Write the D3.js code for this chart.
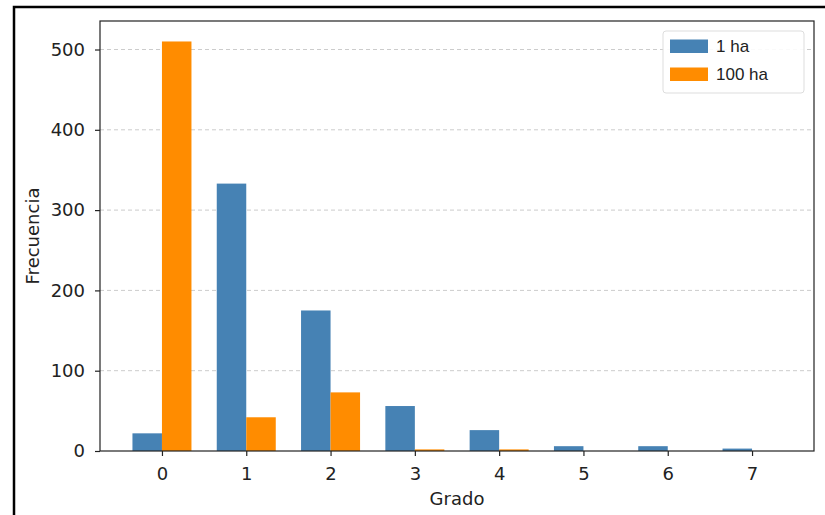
<!DOCTYPE html>
<html><head><meta charset="utf-8">
<script src="https://cdn.jsdelivr.net/npm/d3@7"></script>
<style>body{margin:0;background:#fff;} svg{display:block;}</style>
</head><body>
<script>
const categories = [0, 1, 2, 3, 4, 5, 6, 7];
const series1ha = [22, 333, 175, 56, 26, 6, 6, 3];
const series100ha = [510, 42, 73, 2, 2, 0, 0, 0];
const seriesNames = ["1 ha", "100 ha"];
const seriesColors = ["#4682b4", "#ff8c00"];
const yTicks = [0, 100, 200, 300, 400, 500];

const W = 825, H = 515;
const m = {left: 100, right: 11, top: 21, bottom: 64};
const svg = d3.select("body").append("svg").attr("width", W).attr("height", H);
svg.append("rect").attr("x",0).attr("y",0).attr("width",W).attr("height",H).attr("fill","#fff");
// outer frame
svg.append("rect").attr("x",14).attr("y",7).attr("width",W+20).attr("height",H+20)
  .attr("fill","none").attr("stroke","#000").attr("stroke-width",2.5);

const x = d3.scaleLinear().domain([-0.735, 7.735]).range([m.left, W - m.right]);
const y = d3.scaleLinear().domain([0, 535.5]).range([H - m.bottom, m.top]);
const bw = 0.35;
const font = "'DejaVu Sans', sans-serif";

// grid
svg.append("g").selectAll("line").data(yTicks.filter(d=>d>0)).join("line")
  .attr("x1", m.left).attr("x2", W - m.right)
  .attr("y1", d=>y(d)).attr("y2", d=>y(d))
  .attr("stroke", "#cccccc").attr("stroke-width", 1).attr("stroke-dasharray", "4,3");

// bars
const g = svg.append("g");
g.selectAll(".b1").data(categories).join("rect")
  .attr("x", (d)=>x(d - bw)).attr("width", (d)=>x(d) - x(d - bw))
  .attr("y", (d,i)=>y(series1ha[i])).attr("height", (d,i)=>y(0) - y(series1ha[i]))
  .attr("fill", seriesColors[0]);
g.selectAll(".b2").data(categories).join("rect")
  .attr("x", (d)=>x(d)).attr("width", (d)=>x(d + bw) - x(d))
  .attr("y", (d,i)=>y(series100ha[i])).attr("height", (d,i)=>y(0) - y(series100ha[i]))
  .attr("fill", seriesColors[1]);

// axes
const xAxis = svg.append("g").attr("transform", `translate(0,${H - m.bottom})`)
  .call(d3.axisBottom(x).tickValues(categories).tickFormat(d3.format("d")).tickSize(5).tickPadding(11.5));
const yAxis = svg.append("g").attr("transform", `translate(${m.left},0)`)
  .call(d3.axisLeft(y).tickValues(yTicks).tickSize(5).tickPadding(10));
[xAxis, yAxis].forEach(a => {
  a.select(".domain").remove();
  a.selectAll(".tick line").attr("stroke", "#222").attr("stroke-width", 1.2);
  a.selectAll(".tick text").attr("font-family", font).attr("font-size", 18).attr("fill", "#222");
});
// spines
svg.append("rect").attr("x", m.left).attr("y", m.top)
  .attr("width", W - m.right - m.left).attr("height", H - m.bottom - m.top)
  .attr("fill", "none").attr("stroke", "#222").attr("stroke-width", 1.2);

// labels
svg.append("text").attr("x", (m.left + W - m.right)/2).attr("y", 505)
  .attr("text-anchor", "middle").attr("font-family", font).attr("font-size", 18).attr("fill", "#222").text("Grado");
svg.append("text").attr("transform", `translate(39,${(m.top + H - m.bottom)/2}) rotate(-90)`)
  .attr("text-anchor", "middle").attr("font-family", font).attr("font-size", 18).attr("fill", "#222").text("Frecuencia");

// legend
const lg = svg.append("g");
lg.append("rect").attr("x", 663).attr("y", 31).attr("width", 141).attr("height", 62).attr("rx", 3)
  .attr("fill", "#fff").attr("fill-opacity", 0.9).attr("stroke", "#dddddd").attr("stroke-width", 1);
seriesNames.forEach((n, i) => {
  lg.append("rect").attr("x", 670).attr("y", 39.5 + i*28).attr("width", 38).attr("height", 13.5).attr("fill", seriesColors[i]);
  lg.append("text").attr("x", 716).attr("y", 46 + i*28).attr("dy", "0.35em")
    .attr("font-family", "'Liberation Sans', Arial, sans-serif").attr("font-size", 17).attr("fill", "#222").text(n);
});
</script>
</body></html>
